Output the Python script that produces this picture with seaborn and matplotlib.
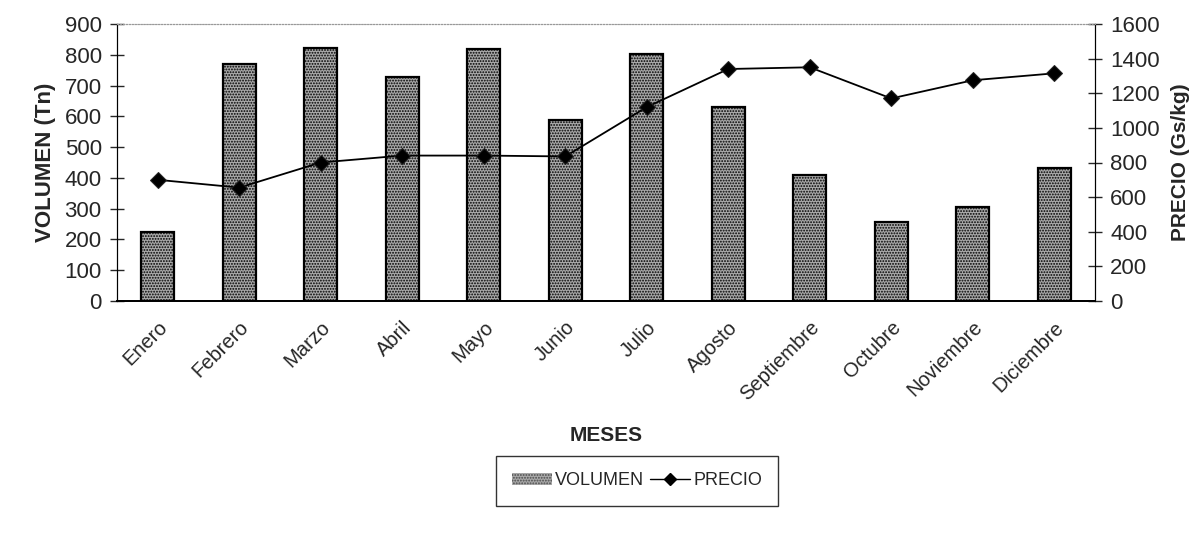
import numpy as np
import pandas as pd
import matplotlib.pyplot as plt
import seaborn as sns
from matplotlib.lines import Line2D
from matplotlib.patches import Patch

meses = ['Enero', 'Febrero', 'Marzo', 'Abril', 'Mayo', 'Junio', 'Julio',
         'Agosto', 'Septiembre', 'Octubre', 'Noviembre', 'Diciembre']
volumen = [224, 770, 822, 728, 820, 588, 803, 630, 410, 258, 305, 432]
precio = [700, 655, 800, 840, 840, 835, 1120, 1340, 1350, 1170, 1275, 1315]

df = pd.DataFrame({'mes': meses, 'volumen': volumen, 'precio': precio})

sns.set_style('white')
plt.rcParams['font.family'] = ['Liberation Sans', 'DejaVu Sans']
plt.rcParams['hatch.color'] = '#4a4a4a'
plt.rcParams['hatch.linewidth'] = 0.9

fig = plt.figure(figsize=(12.04, 5.33), dpi=100)
ax = fig.add_axes([117 / 1204, 1 - 301 / 533, (1095 - 117) / 1204, (301 - 24) / 533])

sns.barplot(data=df, x='mes', y='volumen', ax=ax, color='#a9a9a9',
            width=0.41, edgecolor='black', linewidth=1.6, saturation=1)
for bar in ax.patches:
    bar.set_hatch('......')

ax2 = ax.twinx()
sns.lineplot(x=np.arange(len(meses)), y=df['precio'], ax=ax2, color='black',
             marker='D', markersize=8, linewidth=1.3, markeredgecolor='#222222')

ax.set_xlim(-0.5, len(meses) - 0.5)
ax.set_ylim(0, 900)
ax2.set_ylim(0, 1600)
ax.set_yticks(range(0, 901, 100))
ax2.set_yticks(range(0, 1601, 200))

ax.set_xticks(range(len(meses)))
ax.set_xticklabels(meses, rotation=45, ha='right', rotation_mode='anchor', fontsize=14.5)
ax.set_xticks(np.arange(0.5, len(meses) - 0.5, 1), minor=True)
ax.tick_params(axis='x', which='major', length=0, pad=12)
ax.tick_params(axis='x', which='minor', length=8, direction='inout', width=1)
ax.tick_params(axis='y', labelsize=16, length=10, direction='inout', width=1, left=True, pad=6)
ax2.tick_params(axis='y', labelsize=16, length=10, direction='inout', width=1, right=True, pad=6)

for a in (ax, ax2):
    a.spines['top'].set_linestyle(':')
    a.spines['top'].set_color('#999999')
    a.spines['left'].set_color('black')
    a.spines['right'].set_color('black')
    a.spines['bottom'].set_color('black')
    a.spines['bottom'].set_linewidth(1.3)

ax.set_xlabel('MESES', fontsize=15, fontweight='bold', labelpad=16)
ax.set_ylabel('VOLUMEN (Tn)', fontsize=16, fontweight='bold', labelpad=6)
ax2.set_ylabel('PRECIO (Gs/kg)', fontsize=15, fontweight='bold', labelpad=8)

handles = [Patch(facecolor='#a9a9a9', edgecolor='#4a4a4a', linewidth=0, hatch='......'),
           Line2D([0], [0], color='black', marker='D', markersize=6, linewidth=1)]
fig.legend(handles, ['VOLUMEN', 'PRECIO'], loc='upper center', ncol=2,
           bbox_to_anchor=(637 / 1204, 1 - 456 / 533), frameon=True,
           fancybox=False, edgecolor='black', fontsize=13,
           handlelength=2.2, columnspacing=0.3, handletextpad=0.2,
           borderpad=0.9, borderaxespad=0)

fig.savefig('out.png', dpi=100)
